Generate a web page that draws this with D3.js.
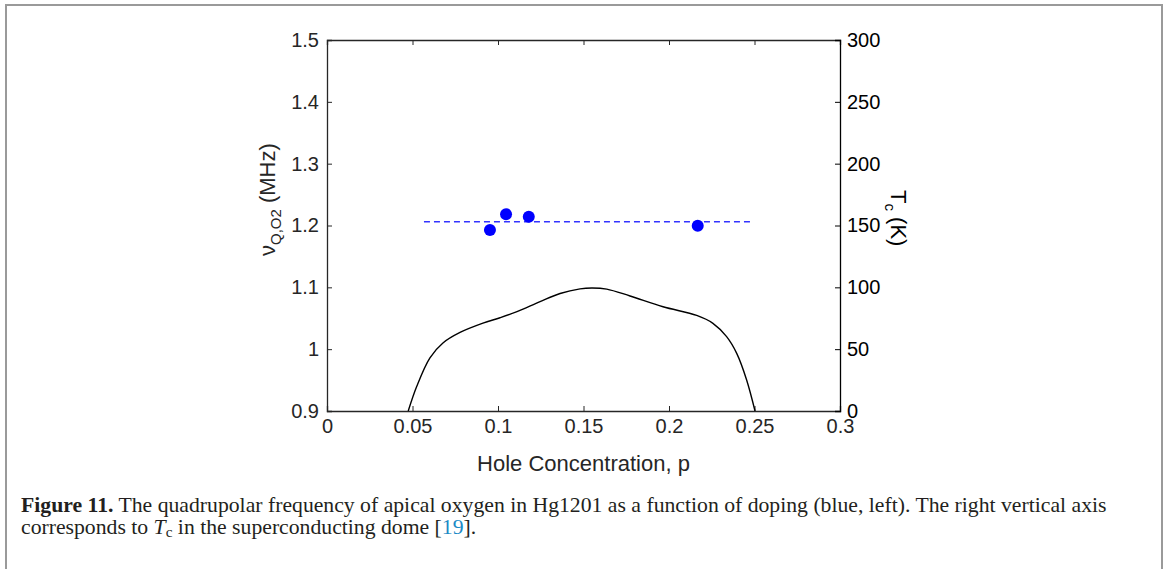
<!DOCTYPE html>
<html>
<head>
<meta charset="utf-8">
<script src="https://cdn.jsdelivr.net/npm/d3@7"></script>
<style>
body { margin: 0; background: #fff; overflow: hidden; }
text { font-family: "Liberation Sans", Arial, sans-serif; fill: #262626; }
.tick text { font-size: 20px; }
.axis-label { font-size: 22px; }
.caption text, text.caption { font-family: "Liberation Serif", "Times New Roman", serif; fill: #231f20; }
</style>
</head>
<body>
<svg width="1168" height="569"></svg>
<script>
// doping vs apical oxygen quadrupolar frequency (blue points)
const holeP = [0.0953, 0.1047, 0.118, 0.2168];
const nuQ = [1.1927, 1.2181, 1.2143, 1.1997];
// dashed average line
const avgP = [0.0567, 0.2474];
const avgNu = [1.2062, 1.2062];
// superconducting dome Tc(p)
const domeP = [0.0475, 0.0525, 0.0602, 0.0678, 0.0778, 0.0912, 0.1012, 0.1111, 0.1246, 0.1363, 0.148, 0.155,
  0.1636, 0.1772, 0.1965, 0.2162, 0.2257, 0.2337, 0.2396, 0.2454, 0.2503];
const domeTc = [0, 20, 43, 55, 63.5, 71, 75.4, 80.3, 88.4, 95, 98.8, 99.5,
  98.6, 93, 84.3, 77.3, 70.9, 60.1, 46.6, 25.1, 0];

const xTicks = [0, 0.05, 0.1, 0.15, 0.2, 0.25, 0.3];
const yTicks = [0.9, 1, 1.1, 1.2, 1.3, 1.4, 1.5];
const tcTicks = [0, 50, 100, 150, 200, 250, 300];

const svg = d3.select('svg');
const margin = { left: 327, top: 40, right: 840, bottom: 411 };
const innerWidth = margin.right - margin.left;
const innerHeight = margin.bottom - margin.top;

// outer frame of the figure (bottom edge is below the window)
svg.append('path')
  .attr('d', 'M6,569 V5 H1162 V569')
  .attr('fill', 'none').attr('stroke', '#9a9a9a').attr('stroke-width', 2);

const g = svg.append('g').attr('transform', `translate(${margin.left},${margin.top})`);

const xScale = d3.scaleLinear().domain([0, 0.3]).range([0, innerWidth]);
const yScale = d3.scaleLinear().domain([0.9, 1.5]).range([innerHeight, 0]);
const tcScale = d3.scaleLinear().domain([0, 300]).range([innerHeight, 0]);

const fmt = d => String(+d.toFixed(2));

// top ticks (no labels)
const topG = g.append('g')
  .call(d3.axisTop(xScale).tickValues(xTicks).tickSize(-5).tickFormat(''));
topG.selectAll('line, path').attr('stroke', '#262626');

const xAxisG = g.append('g').attr('transform', `translate(0,${innerHeight})`)
  .call(d3.axisBottom(xScale).tickValues(xTicks).tickSize(-5).tickPadding(8).tickFormat(fmt));
xAxisG.selectAll('line, path').attr('stroke', '#262626');

const yAxisG = g.append('g')
  .call(d3.axisLeft(yScale).tickValues(yTicks).tickSize(-5).tickPadding(8).tickFormat(fmt));
yAxisG.selectAll('line, path').attr('stroke', '#262626');

const tcAxisG = g.append('g').attr('transform', `translate(${innerWidth},0)`)
  .call(d3.axisRight(tcScale).tickValues(tcTicks).tickSize(-5).tickPadding(7));
tcAxisG.selectAll('line, path').attr('stroke', '#000');
tcAxisG.selectAll('text').style('fill', '#000');

g.selectAll('.domain').attr('stroke-width', 1.3);

svg.selectAll('.tick text').attr('font-family', null);

// clip for curves
svg.append('defs').append('clipPath').attr('id', 'clip')
  .append('rect').attr('width', innerWidth).attr('height', innerHeight);

// dome
const domeLine = d3.line()
  .x((d, i) => xScale(domeP[i]))
  .y(d => tcScale(d))
  .curve(d3.curveCatmullRom.alpha(0.5));
g.append('path')
  .attr('clip-path', 'url(#clip)')
  .attr('d', domeLine(domeTc))
  .attr('fill', 'none').attr('stroke', '#000').attr('stroke-width', 1.4);

// dashed mean line
const avgLine = d3.line().x((d, i) => xScale(avgP[i])).y(d => yScale(d));
g.append('path')
  .attr('d', avgLine(avgNu))
  .attr('fill', 'none').attr('stroke', '#3333ff').attr('stroke-width', 1.5)
  .attr('stroke-dasharray', '6,4');

// points
g.selectAll('circle.pt').data(nuQ).enter().append('circle')
  .attr('class', 'pt')
  .attr('cx', (d, i) => xScale(holeP[i]))
  .attr('cy', d => yScale(d))
  .attr('r', 6)
  .attr('fill', '#0000ff');

// axis labels
svg.append('text').attr('class', 'axis-label')
  .attr('x', margin.left + innerWidth / 2).attr('y', 471)
  .attr('text-anchor', 'middle')
  .text('Hole Concentration, p');

const yl = svg.append('text').attr('class', 'axis-label')
  .attr('transform', 'translate(275,256) rotate(-90)');
yl.append('tspan').text('ν');
yl.append('tspan').attr('dy', 6).style('font-size', '15px').text('Q,O2');
yl.append('tspan').attr('dy', -6).text(' (MHz)');

const rl = svg.append('text').attr('class', 'axis-label')
  .style('fill', '#000')
  .attr('transform', 'translate(891,190) rotate(90)');
rl.append('tspan').text('T');
rl.append('tspan').attr('dy', 6).style('font-size', '15px').text('c');
rl.append('tspan').attr('dy', -6).text(' (K)');

// caption
const cap = svg.append('g').attr('class', 'caption');
const l1 = cap.append('text').attr('x', 21).attr('y', 512);
l1.append('tspan').style('font-weight', 'bold').text('Figure 11.');
l1.append('tspan').text(' The quadrupolar frequency of apical oxygen in Hg1201 as a function of doping (blue, left). The right vertical axis');
const l2 = cap.append('text').attr('x', 21).attr('y', 534);
l2.append('tspan').text('corresponds to ');
l2.append('tspan').style('font-style', 'italic').text('T');
l2.append('tspan').attr('class', 'sub').attr('dy', 3).text('c');
l2.append('tspan').attr('dy', -3).text(' in the superconducting dome [');
l2.append('tspan').style('fill', '#1a8ac6').text('19');
l2.append('tspan').text('].');

// fit caption font size so the first line spans the same width
let fs = 18;
cap.selectAll('text').style('font-size', fs + 'px');
const w = l1.node().getComputedTextLength();
fs = fs * 1086 / w;
cap.selectAll('text').style('font-size', fs + 'px');
cap.selectAll('tspan.sub').style('font-size', (fs * 0.7) + 'px');
</script>
</body>
</html>
